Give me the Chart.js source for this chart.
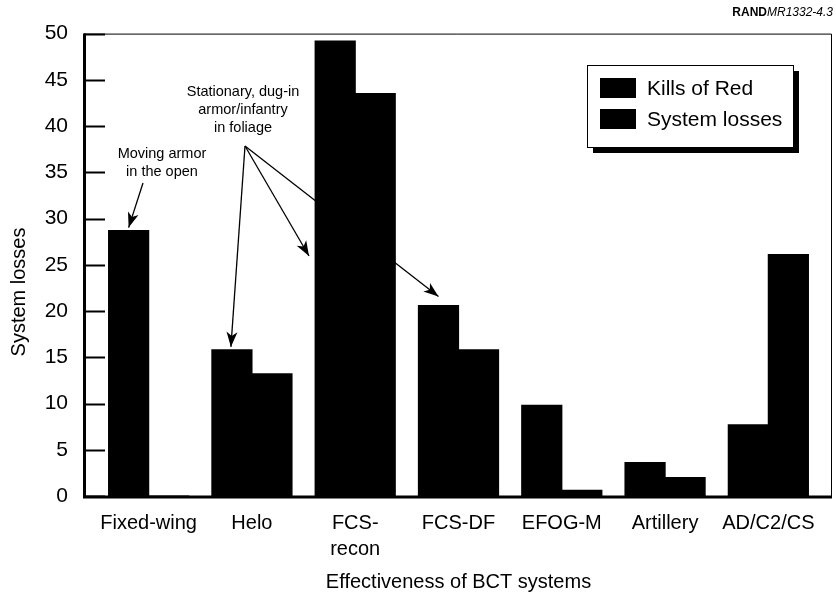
<!DOCTYPE html>
<html>
<head>
<meta charset="utf-8">
<script src="https://cdn.jsdelivr.net/npm/chart.js@4.4.0/dist/chart.umd.min.js"></script>
<style>
  html, body { margin: 0; padding: 0; background: #fff; }
</style>
</head>
<body>
<canvas id="canvas" width="836" height="598"></canvas>
<script>
var systems = ['Fixed-wing', 'Helo', ['FCS-', 'recon'], 'FCS-DF', 'EFOG-M', 'Artillery', 'AD/C2/CS'];
var killsOfRed = [28.7, 15.8, 49.2, 20.6, 9.8, 3.6, 7.7];
var systemLosses = [0, 13.2, 43.5, 15.8, 0.6, 2.0, 26.1];
var yTicks = [0, 5, 10, 15, 20, 25, 30, 35, 40, 45, 50];

var FONT = '"Liberation Sans", Arial, Helvetica, sans-serif';

function arrow(ctx, x1, y1, x2, y2, head) {
  ctx.beginPath();
  ctx.moveTo(x1, y1);
  ctx.lineTo(x2, y2);
  ctx.stroke();
  if (!head) return;
  var a = Math.atan2(y2 - y1, x2 - x1);
  ctx.save();
  ctx.translate(x2, y2);
  ctx.rotate(a);
  ctx.beginPath();
  ctx.moveTo(0, 0);
  ctx.lineTo(-15, -5.5);
  ctx.lineTo(-11, 0);
  ctx.lineTo(-15, 5.5);
  ctx.closePath();
  ctx.fill();
  ctx.restore();
}

// frame, inner ticks, legend, notes
var extras = {
  id: 'extras',
  afterDraw: function(chart) {
    var ctx = chart.ctx;
    var ys = chart.scales.y;
    var area = chart.chartArea;
    var left = 84, right = 831, top = ys.getPixelForValue(50), bottom = ys.getPixelForValue(0);
    ctx.save();
    ctx.strokeStyle = '#000';
    ctx.fillStyle = '#000';

    // thin top and right frame
    ctx.lineWidth = 1;
    ctx.beginPath();
    ctx.moveTo(left, top + 0.5);
    ctx.lineTo(right + 0.5, top + 0.5);
    ctx.lineTo(right + 0.5, bottom);
    ctx.stroke();

    // heavy axes
    ctx.lineWidth = 3;
    ctx.beginPath();
    ctx.moveTo(left + 0.5, top);
    ctx.lineTo(left + 0.5, bottom + 1);
    ctx.lineTo(right + 1, bottom + 1);
    ctx.stroke();

    // ticks pointing inward
    ctx.lineWidth = 2;
    yTicks.forEach(function(v) {
      var y = Math.round(ys.getPixelForValue(v)) + 0.5;
      ctx.beginPath();
      ctx.moveTo(left, y);
      ctx.lineTo(left + 21, y);
      ctx.stroke();
    });

    // axis titles
    ctx.font = '20px ' + FONT;
    ctx.textAlign = 'center';
    ctx.textBaseline = 'middle';
    ctx.fillText('Effectiveness of BCT systems', (area.left + area.right) / 2, 582);
    ctx.save();
    ctx.translate(19, 292);
    ctx.rotate(-Math.PI / 2);
    ctx.fillText('System losses', 0, 0);
    ctx.restore();

    // figure id
    ctx.textAlign = 'right';
    ctx.font = 'italic 12px ' + FONT;
    var w = ctx.measureText('MR1332-4.3').width;
    ctx.fillText('MR1332-4.3', 833, 13);
    ctx.font = 'bold 12px ' + FONT;
    ctx.fillText('RAND', 833 - w, 13);

    // legend
    var bx = 587, by = 65, bw = 206, bh = 82;
    ctx.fillRect(bx + 6, by + 6, bw, bh);
    ctx.fillStyle = '#fff';
    ctx.fillRect(bx, by, bw, bh);
    ctx.fillStyle = '#000';
    ctx.lineWidth = 1;
    ctx.strokeRect(bx + 0.5, by + 0.5, bw, bh);
    ctx.font = '21px ' + FONT;
    ctx.textAlign = 'left';
    chart.data.datasets.forEach(function(ds, i) {
      var cy = 88 + i * 31;
      ctx.fillStyle = ds.backgroundColor;
      ctx.fillRect(600, cy - 10, 36, 20);
      ctx.fillStyle = '#000';
      ctx.fillText(ds.label, 647, cy + 1);
    });

    // notes
    ctx.font = '14.5px ' + FONT;
    ctx.textAlign = 'center';
    ctx.fillText('Moving armor', 162, 154);
    ctx.fillText('in the open', 162, 172);
    ctx.fillText('Stationary, dug-in', 243, 92);
    ctx.fillText('armor/infantry', 243, 110);
    ctx.fillText('in foliage', 243, 128);

    var k = chart.getDatasetMeta(0).data;
    ctx.lineWidth = 1.3;
    arrow(ctx, 143, 183, k[0].x, k[0].y - 3, true);
    arrow(ctx, 245, 146, k[1].x - 1, k[1].y - 3, true);
    arrow(ctx, 245, 146, 309, 256, true);
    arrow(ctx, 245, 146, k[3].x, k[3].y - 9, true);
    ctx.restore();
  }
};

window.onload = function() {
  var ctx = document.getElementById('canvas').getContext('2d');
  window.myBar = new Chart(ctx, {
    type: 'bar',
    data: {
      labels: systems,
      datasets: [
        { label: 'Kills of Red', data: killsOfRed, backgroundColor: '#000', borderColor: '#000' },
        { label: 'System losses', data: systemLosses, backgroundColor: '#000', borderColor: '#000' }
      ]
    },
    options: {
      responsive: false,
      animation: false,
      events: [],
      layout: { padding: { top: 31, right: 16, left: 0, bottom: 0 } },
      datasets: { bar: { barPercentage: 1, categoryPercentage: 0.775, borderWidth: 0, inflateAmount: 0.6 } },
      plugins: { legend: { display: false }, tooltip: { enabled: false }, title: { display: false } },
      scales: {
        x: {
          grid: { display: false },
          border: { display: false },
          ticks: { color: '#000', font: { family: FONT, size: 20, lineHeight: 1.3 }, padding: 6, maxRotation: 0, autoSkip: false },
          afterFit: function(s) { s.height = 102; }
        },
        y: {
          min: 0,
          max: 50,
          grid: { display: false },
          border: { display: false },
          ticks: { color: '#000', font: { family: FONT, size: 21 }, padding: 21 },
          afterBuildTicks: function(s) { s.ticks = yTicks.map(function(v) { return { value: v }; }); },
          afterFit: function(s) { s.width = 97; }
        }
      }
    },
    plugins: [extras]
  });
};
</script>
</body>
</html>
